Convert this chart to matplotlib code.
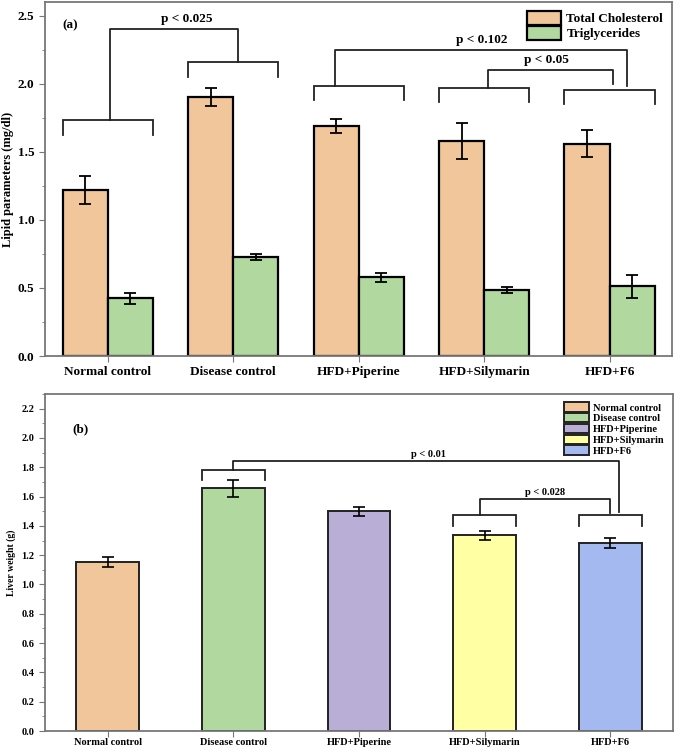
import numpy as np
import matplotlib.pyplot as plt
from matplotlib.ticker import MultipleLocator

plt.rcParams['font.family'] = ['Liberation Serif', 'DejaVu Serif']
plt.rcParams['font.weight'] = 'bold'
plt.rcParams['axes.labelweight'] = 'bold'

groups = ['Normal control', 'Disease control', 'HFD+Piperine', 'HFD+Silymarin', 'HFD+F6']

# panel (a) lipid parameters
tc = [1.22, 1.905, 1.69, 1.58, 1.56]
tc_err = [0.10, 0.065, 0.05, 0.13, 0.10]
tg = [0.425, 0.727, 0.578, 0.484, 0.513]
tg_err = [0.04, 0.025, 0.035, 0.02, 0.085]

# panel (b) liver weight
liver = [1.152, 1.656, 1.50, 1.336, 1.281]
liver_err = [0.034, 0.06, 0.03, 0.03, 0.033]

c_tc = '#F0C69A'
c_tg = '#B1D89F'
bar_colors = ['#F0C69A', '#B1D89F', '#B9AFD6', '#FFFFA3', '#A3B9F0']
spine_col = '#777777'

fig = plt.figure(figsize=(6.76, 7.5), dpi=100)
ax1 = fig.add_axes([0.0666, 0.5253, 0.928, 0.472])
ax2 = fig.add_axes([0.0666, 0.0253, 0.929, 0.4494])

x = np.arange(len(groups))


def bracket(ax, x0, x1, y, leg, lw=1.3):
    ax.plot([x0, x0, x1, x1], [y - leg, y, y, y - leg], color='#222222', lw=lw,
            solid_joinstyle='miter')


def style(ax, fs, xpad):
    for s in ax.spines.values():
        s.set_color(spine_col)
        s.set_linewidth(1.3)
    ax.tick_params(axis='both', which='major', labelsize=fs, color=spine_col, length=4)
    ax.tick_params(axis='x', which='major', length=4, pad=xpad)
    ax.tick_params(axis='y', which='minor', color=spine_col, length=2.5)
    for lab in ax.get_xticklabels() + ax.get_yticklabels():
        lab.set_fontweight('bold')


# ---- panel (a)
w = 0.36
ax1.bar(x - w / 2, tc, w, yerr=tc_err, color=c_tc, edgecolor='black', linewidth=1.6,
        capsize=4, error_kw=dict(elinewidth=1.3, capthick=1.3), label='Total Cholesterol')
ax1.bar(x + w / 2, tg, w, yerr=tg_err, color=c_tg, edgecolor='black', linewidth=1.6,
        capsize=4, error_kw=dict(elinewidth=1.3, capthick=1.3), label='Triglycerides')
ax1.set_xlim(-0.5, 4.5)
ax1.set_ylim(0, 2.6)
ax1.yaxis.set_major_locator(MultipleLocator(0.5))
ax1.yaxis.set_minor_locator(MultipleLocator(0.25))
ax1.set_xticks(x)
ax1.set_xticklabels(groups)
ax1.set_ylabel('Lipid parameters (mg/dl)', fontsize=9, labelpad=3)
style(ax1, 9.5, 3)

# brackets (a)
bracket(ax1, -0.36, 0.36, 1.737, 0.117)
bracket(ax1, 1 - 0.36, 1 + 0.36, 2.163, 0.117)
bracket(ax1, 2 - 0.36, 2 + 0.36, 1.98, 0.103)
bracket(ax1, 3 - 0.36, 3 + 0.36, 1.972, 0.103)
bracket(ax1, 4 - 0.36, 4 + 0.36, 1.957, 0.103)
ax1.plot([0.02, 0.02, 1.04, 1.04], [1.737, 2.405, 2.405, 2.163], color='#222222', lw=1.3)
ax1.text(0.63, 2.43, 'p < 0.025', ha='center', va='bottom', fontsize=9.5, fontweight='bold')
ax1.plot([1.81, 1.81, 4.14, 4.14], [1.98, 2.25, 2.25, 1.98], color='#222222', lw=1.3)
ax1.text(2.98, 2.28, 'p < 0.102', ha='center', va='bottom', fontsize=9.5, fontweight='bold')
ax1.plot([3.03, 3.03, 4.03, 4.03], [1.972, 2.104, 2.104, 2.0], color='#222222', lw=1.3)
ax1.text(3.5, 2.13, 'p < 0.05', ha='center', va='bottom', fontsize=9.5, fontweight='bold')
ax1.text(0.027, 0.935, '(a)', transform=ax1.transAxes, fontsize=9.5, fontweight='bold',
         va='center')
leg1 = ax1.legend(loc='upper right', fontsize=9.5, frameon=False, handlelength=2.6,
                  handleheight=1.2, labelspacing=0.05, borderaxespad=0.3, handletextpad=0.4)
for t in leg1.get_texts():
    t.set_fontweight('bold')

# ---- panel (b)
bw = 0.5
bars = ax2.bar(x, liver, bw, yerr=liver_err, color=bar_colors, edgecolor='#222222',
               linewidth=1.4, capsize=4, error_kw=dict(elinewidth=1.2, capthick=1.2))
ax2.set_xlim(-0.5, 4.5)
ax2.set_ylim(0, 2.3)
ax2.yaxis.set_major_locator(MultipleLocator(0.2))
ax2.yaxis.set_minor_locator(MultipleLocator(0.1))
ax2.set_xticks(x)
ax2.set_xticklabels(groups)
ax2.set_ylabel('Liver weight (g)', fontsize=7)
style(ax2, 7.5, 1)

bracket(ax2, 1 - 0.25, 1 + 0.25, 1.779, 0.068)
bracket(ax2, 3 - 0.25, 3 + 0.25, 1.472, 0.075)
bracket(ax2, 4 - 0.25, 4 + 0.25, 1.472, 0.075)
ax2.plot([1.0, 1.0, 4.07, 4.07], [1.779, 1.84, 1.84, 1.493], color='#222222', lw=1.3)
ax2.text(2.55, 1.855, 'p < 0.01', ha='center', va='bottom', fontsize=7.5, fontweight='bold')
ax2.plot([2.96, 2.96, 4.0, 4.0], [1.472, 1.58, 1.58, 1.49], color='#222222', lw=1.3)
ax2.text(3.48, 1.6, 'p < 0.028', ha='center', va='bottom', fontsize=7.5, fontweight='bold')
ax2.text(0.043, 0.896, '(b)', transform=ax2.transAxes, fontsize=9.5, fontweight='bold',
         va='center')
leg2 = ax2.legend(bars, groups, loc='upper right', fontsize=7.5, frameon=False,
                  handlelength=2.4, handleheight=1.0, labelspacing=0.05,
                  borderaxespad=0.4, handletextpad=0.4)
for t in leg2.get_texts():
    t.set_fontweight('bold')

fig.savefig('out.png', dpi=100)
